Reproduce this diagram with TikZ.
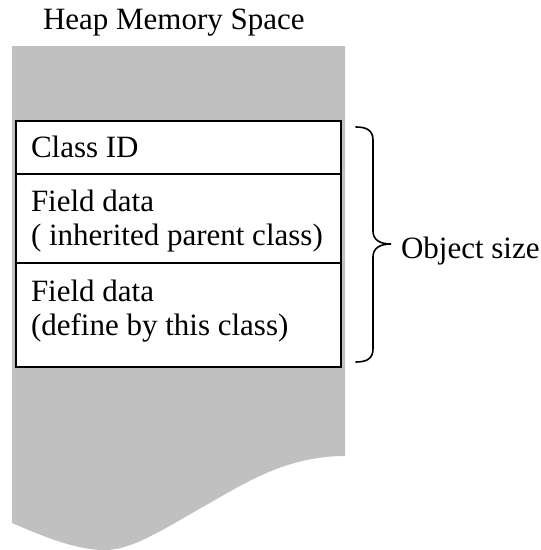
\documentclass[tikz,border=0pt]{standalone}
\usepackage{fontspec}
\setmainfont{Liberation Serif}
\definecolor{heapgray}{HTML}{C0C0C0}
\tikzset{
  lbl/.style={anchor=base west, inner sep=0pt, outer sep=0pt,
    font=\fontsize{31}{37}\selectfont},
  rowbox/.style={draw=black, line width=1.6pt, fill=white, anchor=north west,
    inner sep=0pt, outer sep=0pt, minimum width=325pt},
  bracepen/.style={draw=black, line width=1.6pt, line cap=round}
}
\begin{document}
\begin{tikzpicture}[x=1pt, y=-1pt]
  \useasboundingbox (0,0) rectangle (541,550);

  % heap region with a torn, wavy lower edge
  \fill[heapgray] (12,46) -- (345,46) -- (345,456)
    .. controls (290,456) and (250,480) .. (215,500)
    .. controls (160,531) and (130,552) .. (100,550)
    .. controls (70,548) and (40,535) .. (12,523) -- cycle;

  \node[lbl] (title) at (43,29) {Heap Memory Space};

  % object layout
  \node[rowbox, minimum height=53pt]  (cls) at (16,121) {};
  \node[rowbox, minimum height=89pt]  (inh) at (16,174) {};
  \node[rowbox, minimum height=104pt] (own) at (16,263) {};

  \node[lbl] (clsA) at (31,157) {Class ID};
  \node[lbl] (inhA) at (31,211) {Field data};
  \node[lbl] (inhB) at (31,245) {( inherited parent class)};
  \node[lbl] (ownA) at (31,301) {Field data};
  \node[lbl] (ownB) at (31,335) {(define by this class)};

  % brace spanning the whole object
  \coordinate (btop) at (356,127);
  \coordinate (bbot) at (356,362);
  \coordinate (btip) at (391,244);
  \draw[bracepen] (btop)
    .. controls (366,127) and (373,130) .. (373,140) -- (373,231)
    .. controls (373,240) and (380,244) .. (btip)
    .. controls (380,244) and (373,248) .. (373,257) -- (373,349)
    .. controls (373,359) and (366,362) .. (bbot);

  \node[lbl] (size) at (401,258) {Object size};
\end{tikzpicture}
\end{document}
